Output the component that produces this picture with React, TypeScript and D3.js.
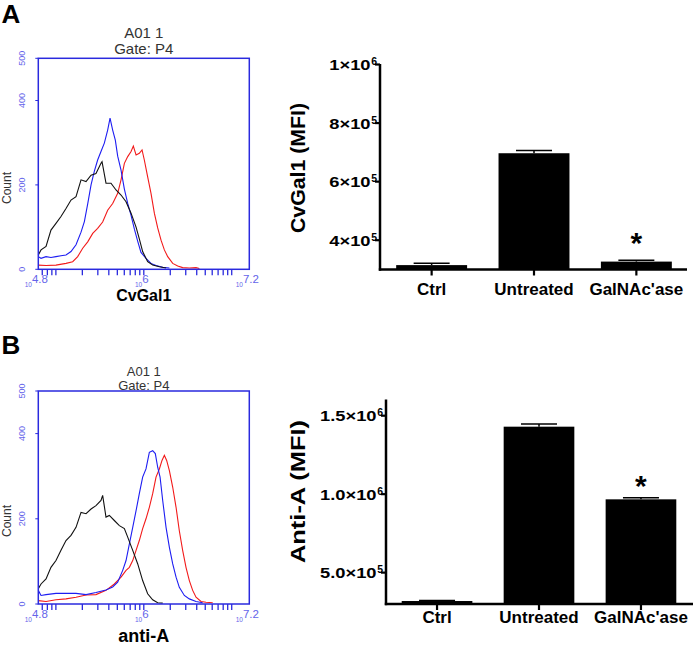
import React from "react";
import * as d3 from "d3";

// ---------- Bar chart data ----------
const categories = ["Ctrl", "Untreated", "GalNAc'ase"];
const cvgal1Mfi = [3.15e5, 6.97e5, 3.27e5];
const cvgal1Sem = [6e3, 9e3, 5e3];
const antiAMfi = [3.19e5, 1.43e6, 9.67e5];
const antiASem = [3e3, 1.7e4, 1.0e4];
const significant = [false, false, true];

const cvgal1Ticks = [4e5, 6e5, 8e5, 1e6];
const cvgal1TickBase = ["4×10", "6×10", "8×10", "1×10"];
const cvgal1TickExp = ["5", "5", "5", "6"];
const antiATicks = [5e5, 1e6, 1.5e6];
const antiATickBase = ["5.0×10", "1.0×10", "1.5×10"];
const antiATickExp = ["5", "6", "6"];

// ---------- Histogram data: [log10 fluorescence, count] ----------
type Pt = [number, number];
const histCountTicks = [0, 200, 400, 500];
const histDecadeLabelLog = [4.8, 6, 7.2];
const histDecadeLabelText = ["4.8", "6", "7.2"];

const cvgal1Black: Pt[] = [
  [4.8, 34], [4.831, 46], [4.888, 54], [4.944, 93], [5.001, 109], [5.058, 125],
  [5.115, 144], [5.172, 164], [5.229, 172], [5.286, 212], [5.343, 208], [5.4, 223],
  [5.456, 227], [5.513, 251], [5.525, 255], [5.57, 204], [5.627, 204], [5.684, 188],
  [5.741, 176], [5.798, 160], [5.855, 133], [5.912, 100], [5.949, 72], [5.987, 42],
  [6.044, 18], [6.101, 10], [6.177, 6], [6.253, 3],
];
const cvgal1Blue: Pt[] = [
  [4.8, 30], [4.831, 26], [4.888, 30], [4.944, 28], [5.001, 30], [5.058, 32],
  [5.115, 34], [5.172, 42], [5.229, 58], [5.286, 88], [5.324, 113], [5.362, 155],
  [5.4, 200], [5.437, 232], [5.475, 259], [5.513, 279], [5.551, 299], [5.589, 330],
  [5.616, 358], [5.646, 330], [5.676, 306], [5.703, 268], [5.741, 235], [5.779, 190],
  [5.817, 156], [5.855, 128], [5.893, 95], [5.931, 66], [5.968, 40], [6.025, 26],
  [6.082, 14], [6.139, 9], [6.215, 5], [6.291, 3],
];
const cvgal1Red: Pt[] = [
  [4.8, 10], [4.888, 9], [5.001, 10], [5.115, 14], [5.191, 18], [5.248, 30],
  [5.305, 50], [5.362, 65], [5.419, 85], [5.475, 97], [5.532, 112], [5.589, 140],
  [5.646, 156], [5.703, 180], [5.741, 212], [5.779, 251], [5.817, 267], [5.855, 279],
  [5.881, 292], [5.912, 271], [5.949, 275], [5.98, 283], [6.006, 259], [6.044, 219],
  [6.082, 180], [6.12, 133], [6.158, 98], [6.196, 69], [6.234, 46], [6.272, 30],
  [6.329, 14], [6.386, 8], [6.442, 4], [6.518, 3], [6.594, 4], [6.632, 2],
];

const antiABlack: Pt[] = [
  [4.8, 36], [4.831, 47], [4.888, 59], [4.944, 86], [5.001, 102], [5.058, 126],
  [5.115, 149], [5.172, 161], [5.229, 180], [5.286, 215], [5.343, 212], [5.4, 223],
  [5.456, 231], [5.513, 243], [5.532, 255], [5.57, 204], [5.608, 208], [5.665, 196],
  [5.722, 184], [5.779, 177], [5.817, 157], [5.874, 126], [5.931, 94], [5.987, 55],
  [6.044, 24], [6.101, 10], [6.158, 3], [6.215, 2],
];
const antiABlue: Pt[] = [
  [4.8, 32], [4.831, 20], [4.888, 22], [5.001, 25], [5.115, 25], [5.229, 25],
  [5.343, 22], [5.456, 27], [5.57, 33], [5.646, 40], [5.703, 51], [5.76, 79],
  [5.798, 102], [5.836, 141], [5.874, 180], [5.912, 219], [5.949, 259], [5.987, 298],
  [6.025, 317], [6.063, 356], [6.101, 360], [6.131, 353], [6.158, 321], [6.185, 298],
  [6.215, 243], [6.253, 180], [6.291, 133], [6.329, 94], [6.367, 63], [6.404, 39],
  [6.461, 20], [6.518, 12], [6.594, 6], [6.67, 3],
];
const antiARed: Pt[] = [
  [4.8, 8], [4.888, 6], [5.001, 10], [5.115, 12], [5.229, 16], [5.343, 21],
  [5.456, 22], [5.57, 32], [5.665, 47], [5.741, 63], [5.798, 79], [5.836, 86],
  [5.874, 102], [5.912, 126], [5.949, 149], [5.987, 177], [6.025, 200], [6.063, 227],
  [6.101, 259], [6.139, 298], [6.177, 317], [6.207, 337], [6.234, 349], [6.26, 337],
  [6.291, 313], [6.329, 274], [6.367, 227], [6.404, 172], [6.442, 126], [6.48, 86],
  [6.518, 55], [6.556, 32], [6.594, 16], [6.651, 6], [6.708, 4], [6.784, 3],
];

// ---------- styles ----------
const AXIS_BLUE = "#2a2ade";
const LABEL_BLUE = "#6464ea";
const SANS = "'Liberation Sans', Arial, Helvetica, sans-serif";

// approximate Arial Bold advance widths (em) used to stretch tick labels
function boldWidth(s: string, size: number) {
  let w = 0;
  for (const ch of s) {
    if (ch === ".") w += 0.278;
    else if (ch === "×") w += 0.584;
    else w += 0.556;
  }
  return w * size;
}

type HistProps = {
  top: number;
  bottom: number;
  black: Pt[];
  blue: Pt[];
  red: Pt[];
  xTitle: string;
  xTitleY: number;
  xTitleSize: number;
  title1Y: number;
  title2Y: number;
  titleSize: number;
  countY: number;
};

function Histogram(p: HistProps) {
  const left = 38.3;
  const right = 249.3;
  const x = d3.scaleLog().domain([Math.pow(10, 4.8), Math.pow(10, 7.2)]).range([left, right]);
  const y = d3.scaleLinear().domain([0, 500]).range([p.bottom, p.top]);
  const line = d3
    .line<Pt>()
    .x((d) => x(Math.pow(10, d[0])))
    .y((d) => y(d[1]));
  const ticks = x.ticks();
  const cx = (left + right) / 2;
  return (
    <g>
      <text x={cx} y={p.title1Y} textAnchor="middle" fontSize={p.titleSize} fill="#333" fontFamily={SANS}>
        A01 1
      </text>
      <text x={cx} y={p.title2Y} textAnchor="middle" fontSize={p.titleSize} fill="#333" fontFamily={SANS}>
        Gate: P4
      </text>
      <path d={line(p.red) || ""} fill="none" stroke="#f21a1a" strokeWidth={1.1} />
      <path d={line(p.blue) || ""} fill="none" stroke="#1d1df2" strokeWidth={1.1} />
      <path d={line(p.black) || ""} fill="none" stroke="#111" strokeWidth={1.1} />
      <rect x={left} y={p.top} width={right - left} height={p.bottom - p.top} fill="none" stroke={AXIS_BLUE} strokeWidth={1.5} />
      {ticks.map((t, i) => (
        <line key={i} x1={x(t)} x2={x(t)} y1={p.bottom} y2={p.bottom + 6} stroke={AXIS_BLUE} strokeWidth={1.3} />
      ))}
      {histCountTicks.map((t, i) => (
        <g key={i}>
          <line x1={left - 3} x2={left} y1={y(t)} y2={y(t)} stroke={AXIS_BLUE} strokeWidth={1} />
          <text
            transform={`translate(25,${y(t)}) rotate(-90)`}
            textAnchor="middle"
            fontSize={9}
            fill={LABEL_BLUE}
            fontFamily={SANS}
          >
            {t}
          </text>
        </g>
      ))}
      {histDecadeLabelLog.map((l, i) => (
        <text
          key={i}
          x={x(Math.pow(10, l)) - 2}
          y={p.bottom + 14}
          textAnchor="middle"
          fill={LABEL_BLUE}
          fontFamily={SANS}
        >
          <tspan fontSize={6.5} dy={3.5}>10</tspan>
          <tspan fontSize={11.5} dy={-3.5}>{histDecadeLabelText[i]}</tspan>
        </text>
      ))}
      <text transform={`translate(11,${p.countY}) rotate(-90)`} textAnchor="middle" fontSize={12} fill="#333" fontFamily={SANS}>
        Count
      </text>
      <text x={cx} y={p.xTitleY} textAnchor="middle" fontSize={p.xTitleSize} fontWeight="bold" fill="#000" fontFamily={SANS}>
        {p.xTitle}
      </text>
    </g>
  );
}

type BarProps = {
  values: number[];
  errors: number[];
  yDomain: [number, number];
  yRange: [number, number];
  axisX: number;
  axisEnd: number;
  xRange: [number, number];
  padOuter: number;
  ticks: number[];
  tickBase: string[];
  tickExp: string[];
  title: string;
  titleLen: number;
  titleY: number;
  labelY: number;
  starGap: number;
};

function BarChart(p: BarProps) {
  const x = d3.scaleBand<string>().domain(categories).range(p.xRange).paddingInner(0.307).paddingOuter(p.padOuter);
  const y = d3.scaleLinear().domain(p.yDomain).range(p.yRange);
  const bw = x.bandwidth();
  const base = p.yRange[0];
  const labelEnd = p.axisX - 9.5;
  return (
    <g>
      {categories.map((c, i) => {
        const x0 = x(c) || 0;
        const cx = x0 + bw / 2;
        const top = y(p.values[i]);
        const errTop = y(p.values[i] + p.errors[i]);
        return (
          <g key={c}>
            <rect x={x0} y={top} width={bw} height={base - top} fill="#000" />
            <line x1={cx} x2={cx} y1={top} y2={errTop} stroke="#000" strokeWidth={1.5} />
            <line x1={cx - 18} x2={cx + 18} y1={errTop} y2={errTop} stroke="#000" strokeWidth={1.5} />
            {significant[i] && (
              <text x={cx} y={errTop - p.starGap} textAnchor="middle" fontSize={30} fontWeight="bold" fontFamily={SANS}>
                *
              </text>
            )}
            <line x1={cx} x2={cx} y1={base} y2={base + 6} stroke="#000" strokeWidth={2.2} />
            <text x={cx} y={p.labelY} textAnchor="middle" fontSize={17} fontWeight="bold" fontFamily={SANS}>
              {c}
            </text>
          </g>
        );
      })}
      <line x1={p.axisX} x2={p.axisX} y1={p.yRange[1] - 0.5} y2={base + 1.2} stroke="#000" strokeWidth={2.5} />
      <line x1={p.axisX - 1.2} x2={p.axisEnd} y1={base} y2={base} stroke="#000" strokeWidth={2.5} />
      {p.ticks.map((t, i) => (
        <g key={i}>
          <line x1={p.axisX - 5} x2={p.axisX} y1={y(t)} y2={y(t)} stroke="#000" strokeWidth={2.2} />
          <text
            x={labelEnd}
            y={y(t) + 5.5}
            textAnchor="end"
            fontSize={15}
            fontWeight="bold"
            fontFamily={SANS}
            textLength={boldWidth(p.tickBase[i], 15) * 1.22}
            lengthAdjust="spacingAndGlyphs"
          >
            {p.tickBase[i]}
          </text>
          <text x={labelEnd + 0.8} y={y(t) + 0.5} textAnchor="start" fontSize={10.5} fontWeight="bold" fontFamily={SANS}>
            {p.tickExp[i]}
          </text>
        </g>
      ))}
      <text
        transform={`translate(305,${p.titleY}) rotate(-90)`}
        textAnchor="middle"
        fontSize={21}
        fontWeight="bold"
        fontFamily={SANS}
        textLength={p.titleLen}
        lengthAdjust="spacingAndGlyphs"
      >
        {p.title}
      </text>
    </g>
  );
}

export default function App() {
  return (
    <svg
      width={693}
      height={646}
      viewBox="0 0 693 646"
      style={{ position: "absolute", left: 0, top: 0, background: "#fff" }}
      fontFamily={SANS}
    >
      <rect x={0} y={0} width={693} height={646} fill="#fff" />
      <text x={1.5} y={23} fontSize={26} fontWeight="bold" fontFamily={SANS}>A</text>
      <text x={1.5} y={354} fontSize={26} fontWeight="bold" fontFamily={SANS}>B</text>

      <Histogram
        top={58.3}
        bottom={269.3}
        black={cvgal1Black}
        blue={cvgal1Blue}
        red={cvgal1Red}
        xTitle="CvGal1"
        xTitleY={301}
        xTitleSize={16}
        title1Y={37.7}
        title2Y={54.3}
        titleSize={15}
        countY={188}
      />
      <Histogram
        top={391}
        bottom={604}
        black={antiABlack}
        blue={antiABlue}
        red={antiARed}
        xTitle="anti-A"
        xTitleY={642}
        xTitleSize={18}
        title1Y={375.5}
        title2Y={389.5}
        titleSize={13}
        countY={521}
      />

      <BarChart
        values={cvgal1Mfi}
        errors={cvgal1Sem}
        yDomain={[3e5, 1e6]}
        yRange={[269.5, 64.5]}
        axisX={380}
        axisEnd={687}
        xRange={[380, 688]}
        padOuter={0.158}
        ticks={cvgal1Ticks}
        tickBase={cvgal1TickBase}
        tickExp={cvgal1TickExp}
        title="CvGal1 (MFI)"
        titleLen={130}
        titleY={168}
        labelY={295}
        starGap={7}
      />
      <BarChart
        values={antiAMfi}
        errors={antiASem}
        yDomain={[3e5, 1.6e6]}
        yRange={[604, 400]}
        axisX={386}
        axisEnd={693}
        xRange={[386, 692]}
        padOuter={0.154}
        ticks={antiATicks}
        tickBase={antiATickBase}
        tickExp={antiATickExp}
        title="Anti-A (MFI)"
        titleLen={143}
        titleY={491.5}
        labelY={623}
        starGap={2}
      />
    </svg>
  );
}
